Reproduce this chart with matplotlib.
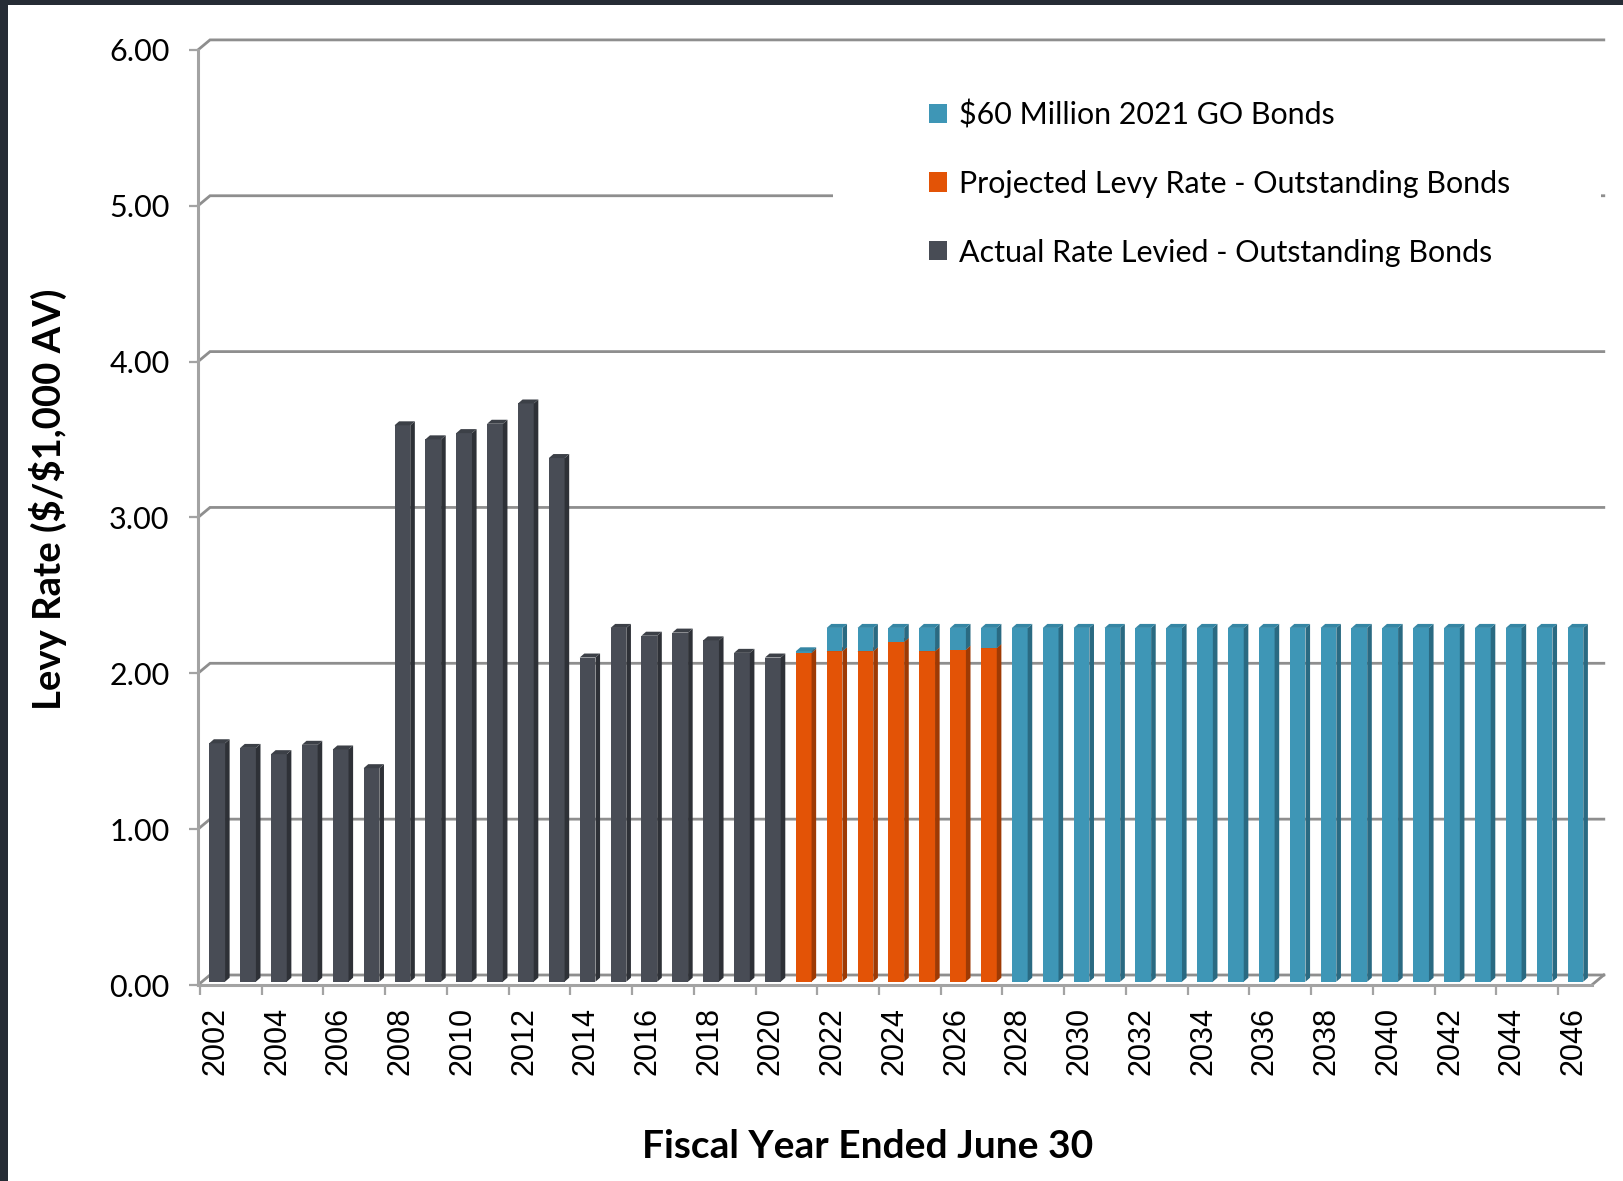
import matplotlib
matplotlib.use("Agg")
import matplotlib.pyplot as plt
from matplotlib.patches import Patch, Rectangle
from matplotlib.collections import PolyCollection
import numpy as np

plt.rcParams["font.family"] = ["Lato", "DejaVu Sans"]

# fiscal years and levy rates ($ per $1,000 AV)
years = list(range(2002, 2047))
actual_rate = [1.53, 1.50, 1.46, 1.52, 1.49, 1.37, 3.57, 3.48, 3.52, 3.58,
               3.71, 3.36, 2.08, 2.27, 2.22, 2.24, 2.19, 2.11, 2.08]      # 2002-2020
projected_rate = [2.11, 2.12, 2.12, 2.18, 2.12, 2.13, 2.14]               # 2021-2027
go_bond_rate = [0.01, 0.15, 0.15, 0.09, 0.15, 0.14, 0.13,                  # 2021-2027
                2.27, 2.27, 2.27, 2.27, 2.27, 2.27, 2.27, 2.27, 2.27, 2.27,
                2.27, 2.27, 2.27, 2.27, 2.27, 2.27, 2.27, 2.27, 2.27]      # 2028-2046

series_labels = ["$60 Million 2021 GO Bonds",
                 "Projected Levy Rate - Outstanding Bonds",
                 "Actual Rate Levied - Outstanding Bonds"]

# colours: (front, side, top)
TEAL = ("#3e96b6", "#2a6a82", "#3586a4")
ORANGE = ("#e35306", "#9e3a04", "#c24806")
GREY = ("#484c55", "#2e3137", "#3c4047")

W, H = 1623, 1181
PX_X, PX_Y = 30.87, 155.85          # pixels per category / per rate unit
X0_PX, Y0_PX = 215.3, 985.0         # pixel position of category 0 / rate 0

n = len(years)
idx = np.arange(n)
actual = np.zeros(n)
actual[:len(actual_rate)] = actual_rate
projected = np.zeros(n)
projected[len(actual_rate):len(actual_rate) + len(projected_rate)] = projected_rate
go_bonds = np.zeros(n)
go_bonds[n - len(go_bond_rate):] = go_bond_rate

fig = plt.figure(figsize=(W / 100, H / 100), dpi=100, facecolor="#262c35")
fig.patches.append(Rectangle((8 / W, 0), 1, 1 - 5 / H, transform=fig.transFigure,
                             facecolor="white", edgecolor="none", zorder=-1))

xlim = (-0.9, 45.3)
ylim = (-0.1, 6.15)
left = (X0_PX + xlim[0] * PX_X) / W
right = (X0_PX + xlim[1] * PX_X) / W
bottom = 1 - (Y0_PX - ylim[0] * PX_Y) / H
top = 1 - (Y0_PX - ylim[1] * PX_Y) / H
ax = fig.add_axes([left, bottom, right - left, top - bottom])
ax.set_xlim(*xlim)
ax.set_ylim(*ylim)
ax.set_facecolor("none")

# 3-D look: back wall offset and bar depth, in data units
x_front = -0.56
x_front_right = 44.59
back_dx, back_dy = 12 / PX_X, 10 / PX_Y
bar_dx, bar_dy = 4.6 / PX_X, 4.0 / PX_Y
bar_w = 0.51
bar_base = 3.3 / PX_Y
bar_shift = 0.06

grid_col = "#8e8e8e"
for k in range(0, 7):
    ax.plot([x_front, x_front + back_dx, x_front_right + back_dx],
            [k, k + back_dy, k + back_dy], color=grid_col, lw=2.0, zorder=1,
            solid_joinstyle="miter")
ax.plot([x_front_right, x_front_right + back_dx], [0, back_dy],
        color=grid_col, lw=2.0, zorder=1)

# blank panel behind the legend
ax.add_patch(Rectangle((833 / W, 1 - 290 / H), (1601 - 833) / W, 210 / H,
                       transform=fig.transFigure, facecolor="white",
                       edgecolor="none", zorder=1.5, clip_on=False))


def prisms(x, lo, hi, colors):
    keep = hi > lo
    x, lo, hi = x[keep], lo[keep], hi[keep]
    ax.bar(x, hi - lo, bottom=lo, width=bar_w, color=colors[0], zorder=3,
           linewidth=0)
    x1 = x + bar_w / 2
    x0 = x - bar_w / 2
    sides = [[(a, b), (a + bar_dx, b + bar_dy), (a + bar_dx, t + bar_dy), (a, t)]
             for a, b, t in zip(x1, lo, hi)]
    tops = [[(a, t), (c, t), (c + bar_dx, t + bar_dy), (a + bar_dx, t + bar_dy)]
            for a, c, t in zip(x0, x1, hi)]
    ax.add_collection(PolyCollection(sides, facecolors=colors[1],
                                     edgecolors="none", zorder=3))
    ax.add_collection(PolyCollection(tops, facecolors=colors[2],
                                     edgecolors="none", zorder=3))


xb = idx + bar_shift
lower = actual + projected
prisms(xb, np.full(n, bar_base), bar_base + actual, GREY)
prisms(xb, np.full(n, bar_base), bar_base + projected, ORANGE)
prisms(xb, bar_base + lower, bar_base + lower + go_bonds, TEAL)

# front axes
for side in ("top", "right"):
    ax.spines[side].set_visible(False)
ax.spines["left"].set_position(("data", x_front))
ax.spines["left"].set_bounds(0, 6)
ax.spines["bottom"].set_position(("data", 0))
ax.spines["bottom"].set_bounds(x_front, x_front_right)
for side in ("left", "bottom"):
    ax.spines[side].set_color("#a3a3a3")
    ax.spines[side].set_linewidth(2.2)
    ax.spines[side].set_zorder(4)

ax.set_yticks(np.arange(0, 7))
ax.set_yticklabels([f"{v:.2f}" for v in range(0, 7)], fontsize=22)
ax.tick_params(axis="y", length=6.5, width=1.6, color="#a3a3a3", pad=14)

ax.set_xticks(np.arange(-0.5, n - 1, 2))
ax.set_xticklabels([])
ax.set_xticks(idx[::2], minor=True)
ax.set_xticklabels([str(y) for y in years[::2]], minor=True, rotation=90,
                   fontsize=22, family="Liberation Sans", va="top")
ax.tick_params(axis="x", which="major", length=7.5, width=1.6, color="#a3a3a3")
ax.tick_params(axis="x", which="minor", length=0, pad=16)

fig.text(48 / W, 1 - 499 / H, "Levy Rate (\\$/\\$1,000 AV)", rotation=90,
         ha="center", va="center", fontsize=27.5, fontweight="bold")
fig.text(868 / W, 1 - 1147 / H, "Fiscal Year Ended June 30",
         ha="center", va="center", fontsize=28, fontweight="bold")

handles = [Patch(facecolor=TEAL[0]), Patch(facecolor=ORANGE[0]),
           Patch(facecolor=GREY[0])]
ax.legend(handles, series_labels, loc="upper left",
          bbox_to_anchor=(929 / W, 1 - 100 / H), bbox_transform=fig.transFigure,
          frameon=False, fontsize=21.9, handlelength=0.6, handleheight=0.6,
          handletextpad=0.4, labelspacing=1.34, borderpad=0, borderaxespad=0)

fig.savefig("out.png", dpi=100)
